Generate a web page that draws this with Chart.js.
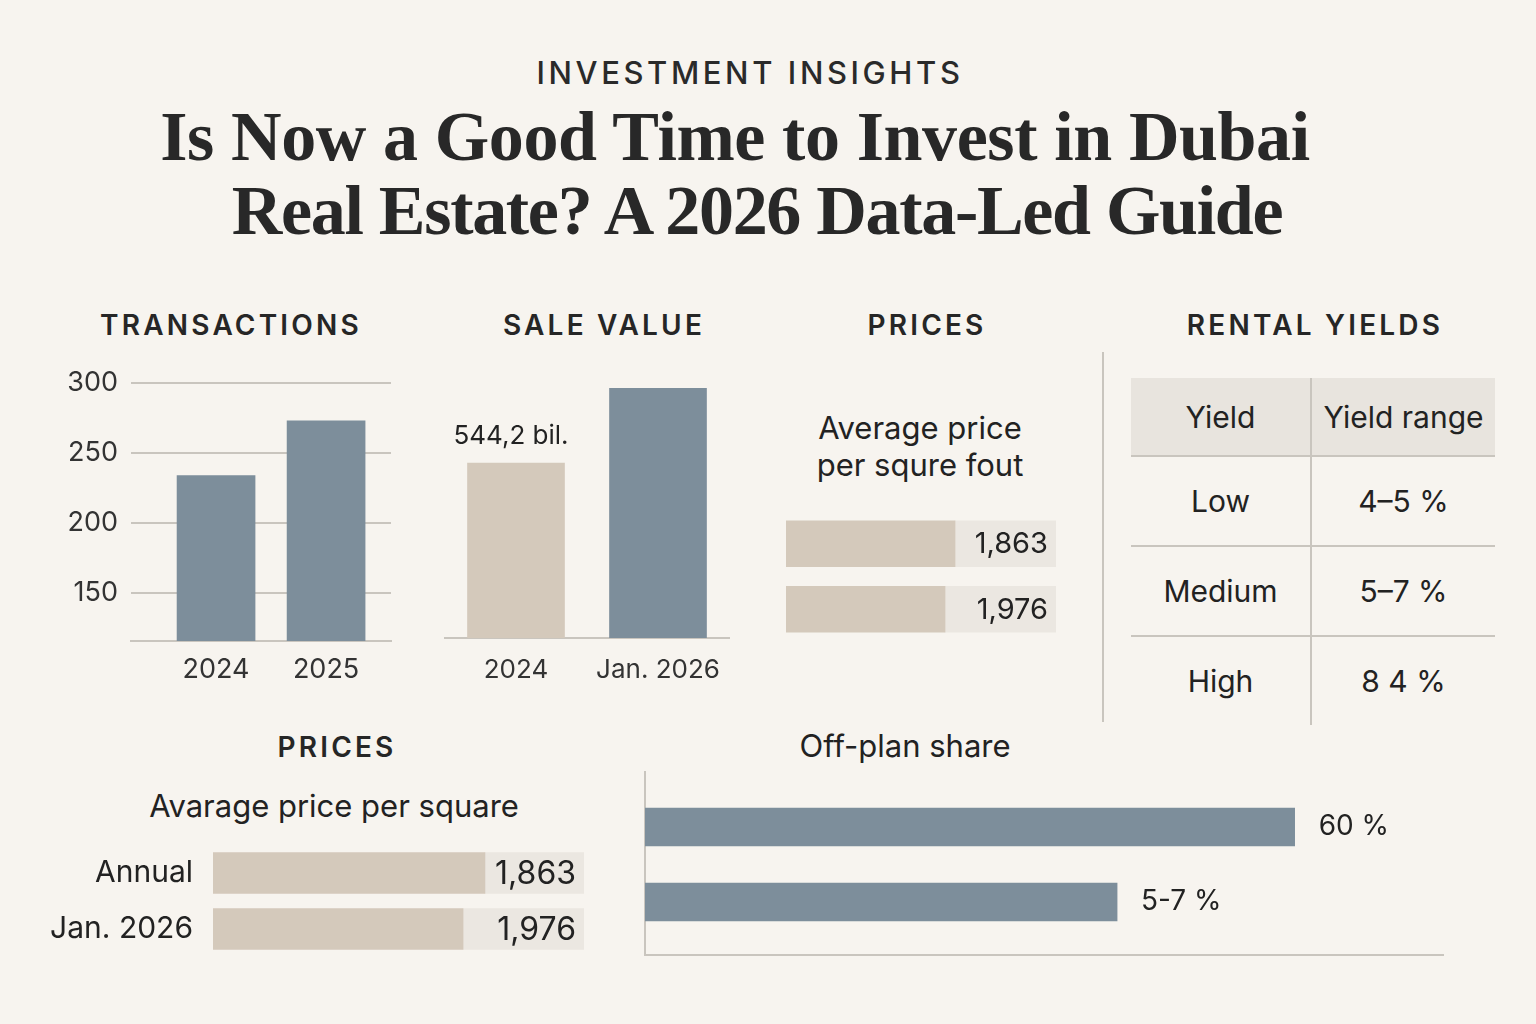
<!DOCTYPE html>
<html><head><meta charset="utf-8">
<script src="https://cdn.jsdelivr.net/npm/chart.js@4.4.1/dist/chart.umd.min.js"></script>
<style>
html,body{margin:0;padding:0;background:#f7f4ef;}
#page{position:relative;width:1536px;height:1024px;overflow:hidden;background:#f7f4ef;font-family:Inter,Roboto,"Noto Sans",sans-serif;color:#222;}
.t{position:absolute;transform:translate(-50%,-50%);white-space:nowrap;line-height:1;}
.kicker{font-size:31px;font-weight:500;letter-spacing:3.6px;color:#2a2a2a;}
.title{font-family:"Liberation Serif","DejaVu Serif",serif;font-weight:bold;font-size:70px;color:#282828;letter-spacing:-0.4px;}
.head{font-size:28px;font-weight:600;letter-spacing:3.2px;color:#262626;}
.sub{font-size:31px;font-weight:400;color:#222;}
canvas{position:absolute;}
#divider{position:absolute;left:1102px;top:352px;width:2px;height:370px;background:#c9c5be;}
table{position:absolute;left:1131px;top:378px;border-collapse:collapse;font-size:30px;color:#222;}
td,th{font-weight:400;text-align:center;padding:0;}
th{background:#e8e4de;height:77px;border-bottom:2px solid #c9c5be;}
td{height:88px;}
tr.r td{border-bottom:2px solid #c9c5be;}
.c1{width:179px;border-right:2px solid #c9c5be;}
.c2{width:183px;}
</style></head>
<body><div id="page">
<div class="t kicker" style="left:750px;top:72px;">INVESTMENT INSIGHTS</div>
<div class="t title" style="left:735px;top:137px;">Is Now a Good Time to Invest in Dubai</div>
<div class="t title" style="left:757px;top:211px;letter-spacing:-1.3px;">Real Estate? A 2026 Data-Led Guide</div>

<div class="t head" style="left:231px;top:325px;">TRANSACTIONS</div>
<div class="t head" style="left:604px;top:325px;">SALE VALUE</div>
<div class="t head" style="left:927px;top:325px;">PRICES</div>
<div class="t head" style="left:1315px;top:325px;">RENTAL YIELDS</div>
<div class="t head" style="left:337px;top:747px;">PRICES</div>
<div class="t sub" style="left:905px;top:745px;">Off-plan share</div>
<div class="t sub" style="left:334px;top:805px;">Avarage price per square</div>
<div class="t sub" style="left:920px;top:427px;">Average price</div>
<div class="t sub" style="left:920px;top:464px;">per squre fout</div>

<canvas id="c1" width="370" height="340" style="left:40px;top:360px;"></canvas>
<canvas id="c2" width="320" height="340" style="left:430px;top:360px;"></canvas>
<canvas id="c3" width="290" height="150" style="left:780px;top:500px;"></canvas>
<canvas id="c4" width="565" height="130" style="left:30px;top:835px;"></canvas>
<canvas id="c5" width="830" height="210" style="left:630px;top:760px;"></canvas>

<div id="divider"></div>
<table id="yt"></table>
</div>
<script>
// ---- data ----
const txYears = ['2024', '2025'];
const txValues = [234, 273];
const txTicks = [150, 200, 250, 300];
const saleLabels = ['2024', 'Jan. 2026'];
const saleValues = [544.2, 777];
const saleNotes = ['544,2 bil.', ''];
const priceTopFill = [62.6, 58.9];
const priceTopText = ['1,863', '1,976'];
const priceRows = ['Annual', 'Jan. 2026'];
const priceBottomFill = [73.3, 67.4];
const priceBottomText = ['1,863', '1,976'];
const offplanValues = [60, 43.6];
const offplanText = ['60 %', '5-7 %'];
const yieldHeader = ['Yield', 'Yield range'];
const yieldLevels = ['Low', 'Medium', 'High'];
const yieldRanges = ['4–5 %', '5–7 %', '8 4 %'];

// ---- table ----
(function(){
  const t = document.getElementById('yt');
  let h = '<tr><th class="c1">'+yieldHeader[0]+'</th><th class="c2">'+yieldHeader[1]+'</th></tr>';
  yieldLevels.forEach((l,i)=>{
    h += '<tr class="'+(i<yieldLevels.length-1?'r':'')+'"><td class="c1">'+l+'</td><td class="c2">'+yieldRanges[i]+'</td></tr>';
  });
  t.innerHTML = h;
})();

// ---- charts ----
const SLATE = '#7d8e9b', BEIGE = '#d4c9bb', TRACK = '#ebe7e1', GRID = '#c9c5be', INK = '#222';
const FAM = 'Inter, Roboto, "Noto Sans", sans-serif';
Chart.defaults.font.family = FAM;
Chart.defaults.color = INK;
Chart.defaults.animation = false;
Chart.defaults.responsive = false;
Chart.defaults.plugins.legend.display = false;
Chart.defaults.plugins.tooltip.enabled = false;

function textPlugin(fn){ return {id:'txt'+Math.random().toString(36).slice(2), afterDatasetsDraw(chart){ const ctx=chart.ctx; ctx.save(); fn(chart, ctx); ctx.restore(); }}; }

// Transactions
new Chart(document.getElementById('c1'), {
  type: 'bar',
  data: { datasets: [{ data: txValues.map((v,i)=>({x:i, y:v})), backgroundColor: SLATE, barThickness: 78 }] },
  options: {
    layout: { padding: { left: 0, right: 19, top: 23, bottom: 0 } },
    scales: {
      x: { type: 'linear', offset: false, min: -0.773, max: 1.59,
           grid: { display: false }, border: { display: true, color: GRID, width: 2 },
           afterBuildTicks: s => { s.ticks = txYears.map((_,i)=>({value:i})); },
           ticks: { callback: v => txYears[v], font: { size: 27 }, color: '#333', padding: 5, autoSkip: false, maxRotation: 0 },
           afterFit: s => { s.height = 59; s.paddingLeft = 0; s.paddingRight = 0; } },
      y: { min: 116, max: 300,
           afterBuildTicks: s => { s.ticks = txTicks.map(v=>({value:v})); },
           grid: { color: GRID, lineWidth: 2, drawTicks: false }, border: { display: false },
           ticks: { font: { size: 27 }, color: '#333', padding: 13 },
           afterFit: s => { s.width = 91; s.paddingTop = 0; s.paddingBottom = 0; } }
    }
  }
});

// Sale value
new Chart(document.getElementById('c2'), {
  type: 'bar',
  data: { labels: saleLabels, datasets: [{ data: saleValues, backgroundColor: [BEIGE, SLATE], barThickness: 97 }] },
  options: {
    layout: { padding: { left: 15, right: 21, top: 21, bottom: 0 } },
    scales: {
      x: { grid: { display: false }, border: { display: true, color: GRID, width: 2 },
           ticks: { font: { size: 26 }, color: '#333', padding: 9, maxRotation: 0 },
           afterFit: s => { s.height = 62; s.paddingLeft = 0; s.paddingRight = 0; } },
      y: { display: false, min: 0, max: 800 }
    }
  },
  plugins: [textPlugin((chart, ctx)=>{
    const meta = chart.getDatasetMeta(0);
    ctx.font = '26px ' + FAM; ctx.fillStyle = INK; ctx.textAlign = 'center'; ctx.textBaseline = 'middle';
    meta.data.forEach((b,i)=>{ if (saleNotes[i]) ctx.fillText(saleNotes[i], b.x - 5, b.y - 27); });
  })]
});

function priceChart(id, fill, texts, rows, thickness, pad, yWidth, valueFont){
  new Chart(document.getElementById(id), {
    type: 'bar',
    data: { labels: rows, datasets: [
      { data: fill, backgroundColor: BEIGE, barThickness: thickness },
      { data: fill.map(v=>100-v), backgroundColor: TRACK, barThickness: thickness }
    ] },
    options: {
      indexAxis: 'y',
      layout: { padding: pad },
      scales: {
        x: { stacked: true, min: 0, max: 100, display: false },
        y: { stacked: true, display: yWidth > 0, grid: { display: false }, border: { display: false },
             ticks: { font: { size: 30 }, color: INK, padding: 12 },
             afterFit: s => { s.width = yWidth; s.paddingTop = 0; s.paddingBottom = 0; } }
      }
    },
    plugins: [textPlugin((chart, ctx)=>{
      const meta = chart.getDatasetMeta(1);
      ctx.font = valueFont + 'px ' + FAM; ctx.fillStyle = INK; ctx.textAlign = 'right'; ctx.textBaseline = 'middle';
      meta.data.forEach((b,i)=>{ ctx.fillText(texts[i], b.x - 8, b.y + 1); });
    })]
  });
}
priceChart('c3', priceTopFill, priceTopText, ['', ''], 46, { left: 6, right: 14, top: 11, bottom: 8 }, 0, 29);
priceChart('c4', priceBottomFill, priceBottomText, priceRows, 41, { left: 0, right: 11, top: 10, bottom: 8 }, 183, 32);

// Off-plan share
new Chart(document.getElementById('c5'), {
  type: 'bar',
  data: { datasets: [{ data: offplanValues.map((v,i)=>({x:v, y:i})), backgroundColor: SLATE, barThickness: 38 }] },
  options: {
    indexAxis: 'y',
    layout: { padding: { left: 15, right: 17, top: 12, bottom: 15 } },
    scales: {
      x: { min: 0, max: 73.7, grid: { display: false }, ticks: { display: false },
           border: { display: true, color: GRID, width: 2 }, afterFit: s => { s.height = 0; } },
      y: { type: 'linear', offset: false, reverse: true, min: -0.733, max: 1.707, grid: { display: false }, ticks: { display: false },
           border: { display: true, color: GRID, width: 2 }, afterFit: s => { s.width = 0; } }
    }
  },
  plugins: [textPlugin((chart, ctx)=>{
    const meta = chart.getDatasetMeta(0);
    ctx.font = '28px ' + FAM; ctx.fillStyle = INK; ctx.textAlign = 'left'; ctx.textBaseline = 'middle';
    meta.data.forEach((b,i)=>{ ctx.fillText(offplanText[i], b.x + 24, b.y); });
  })]
});
</script>
</body></html>
